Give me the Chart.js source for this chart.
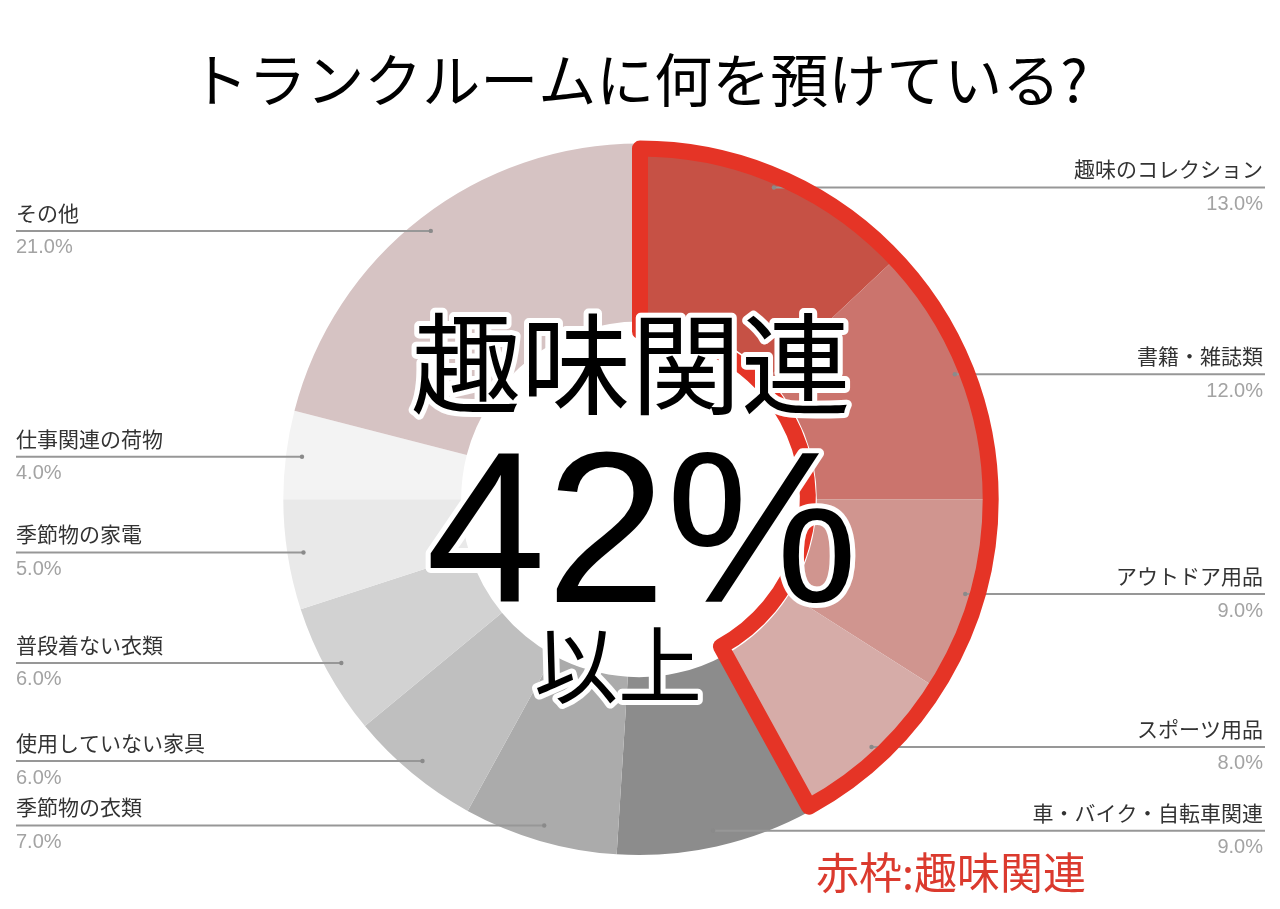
<!DOCTYPE html>
<html>
<head>
<meta charset="utf-8">
<script src="https://cdn.jsdelivr.net/npm/chart.js@4/dist/chart.umd.min.js"></script>
<style>
html, body { margin: 0; padding: 0; background: #fff; }
#wrap { width: 1280px; height: 909px; }
</style>
</head>
<body>
<div id="wrap"><canvas id="chart" width="1280" height="909"></canvas></div>
<script>
var labels = ['趣味のコレクション', '書籍・雑誌類', 'アウトドア用品', 'スポーツ用品',
              '車・バイク・自転車関連', '季節物の衣類', '使用していない家具', '普段着ない衣類',
              '季節物の家電', '仕事関連の荷物', 'その他'];
var values = [13, 12, 9, 8, 9, 7, 6, 6, 5, 4, 21];
var colors = ['#c65145', '#cb746d', '#d0958f', '#d6aca8', '#8c8c8c', '#ababab',
              '#bfbfbf', '#d2d2d2', '#e9e9e9', '#f3f3f3', '#d6c3c3'];
var hobbyCount = 4; // first four slices are "趣味関連"
var titleText = 'トランクルームに何を預けている?';
var noteText = '赤枠:趣味関連';

var nameFont = '21px "Liberation Sans", "Noto Sans CJK JP", sans-serif';
var pctFont = '20px "Liberation Sans", sans-serif';
var cjk = '"Noto Sans CJK JP", sans-serif';

function total() {
    return values.reduce(function (a, b) { return a + b; }, 0);
}

var sideLabels = {
    id: 'sideLabels',
    afterDatasetsDraw: function (chart) {
        var ctx = chart.ctx;
        var meta = chart.getDatasetMeta(0);
        var sum = total();
        ctx.save();
        ctx.textBaseline = 'middle';
        meta.data.forEach(function (arc, i) {
            var mid = (arc.startAngle + arc.endAngle) / 2;
            var r = arc.outerRadius * 0.955;
            var px = arc.x + Math.cos(mid) * r;
            var py = arc.y + Math.sin(mid) * r;
            var right = Math.cos(mid) >= 0;
            ctx.strokeStyle = '#979797';
            ctx.lineWidth = 2;
            ctx.beginPath();
            if (right) { ctx.moveTo(px, py); ctx.lineTo(1265, py); }
            else { ctx.moveTo(16, py); ctx.lineTo(px, py); }
            ctx.stroke();
            ctx.fillStyle = '#8a8a8a';
            ctx.beginPath();
            ctx.arc(px, py, 2.2, 0, Math.PI * 2);
            ctx.fill();
            var pct = (values[i] / sum * 100).toFixed(1) + '%';
            ctx.textAlign = right ? 'right' : 'left';
            var tx = right ? 1263 : 16;
            ctx.font = nameFont;
            ctx.fillStyle = '#333';
            ctx.fillText(labels[i], tx, py - 16);
            ctx.font = pctFont;
            ctx.fillStyle = '#a3a3a3';
            ctx.fillText(pct, tx, py + 17);
        });

        // red frame round the hobby slices
        var first = meta.data[0], last = meta.data[hobbyCount - 1];
        var cx = first.x + 1, cy = first.y;
        var rOut = first.outerRadius - 5, rIn = first.innerRadius - 10;
        ctx.beginPath();
        ctx.arc(cx, cy, rOut, first.startAngle, last.endAngle);
        ctx.arc(cx, cy, rIn, last.endAngle, first.startAngle, true);
        ctx.closePath();
        ctx.lineWidth = 16;
        ctx.lineJoin = 'round';
        ctx.strokeStyle = '#e53426';
        ctx.stroke();

        // big centre text
        var hobby = 0;
        for (var k = 0; k < hobbyCount; k++) hobby += values[k];
        function outlined(text, font, x, y) {
            ctx.font = font;
            ctx.textAlign = 'center';
            ctx.textBaseline = 'alphabetic';
            ctx.lineJoin = 'round';
            ctx.lineWidth = 10;
            ctx.strokeStyle = '#fff';
            ctx.strokeText(text, x, y);
            ctx.fillStyle = '#000';
            ctx.fillText(text, x, y);
        }
        outlined('趣味関連', '110px ' + cjk, 631, 406);
        outlined(Math.round(hobby / sum * 100) + '%', '216px "Liberation Sans", sans-serif', 642, 602);
        outlined('以上', '84px ' + cjk, 618, 697);

        ctx.font = '43px ' + cjk;
        ctx.textAlign = 'left';
        ctx.fillStyle = '#db3a2e';
        ctx.fillText(noteText, 816, 889);
        ctx.restore();
    }
};

new Chart(document.getElementById('chart'), {
    type: 'doughnut',
    data: {
        labels: labels,
        datasets: [{
            data: values,
            backgroundColor: colors,
            borderWidth: 0
        }]
    },
    options: {
        responsive: false,
        animation: false,
        events: [],
        cutout: '50%',
        layout: { padding: { left: 0, right: 2, top: 0, bottom: 54 } },
        plugins: {
            legend: { display: false },
            tooltip: { enabled: false },
            title: {
                display: true,
                text: titleText,
                color: '#000',
                font: { family: cjk, size: 58, weight: 'normal' },
                padding: { top: 45, bottom: 29 }
            }
        }
    },
    plugins: [sideLabels]
});
</script>
</body>
</html>
